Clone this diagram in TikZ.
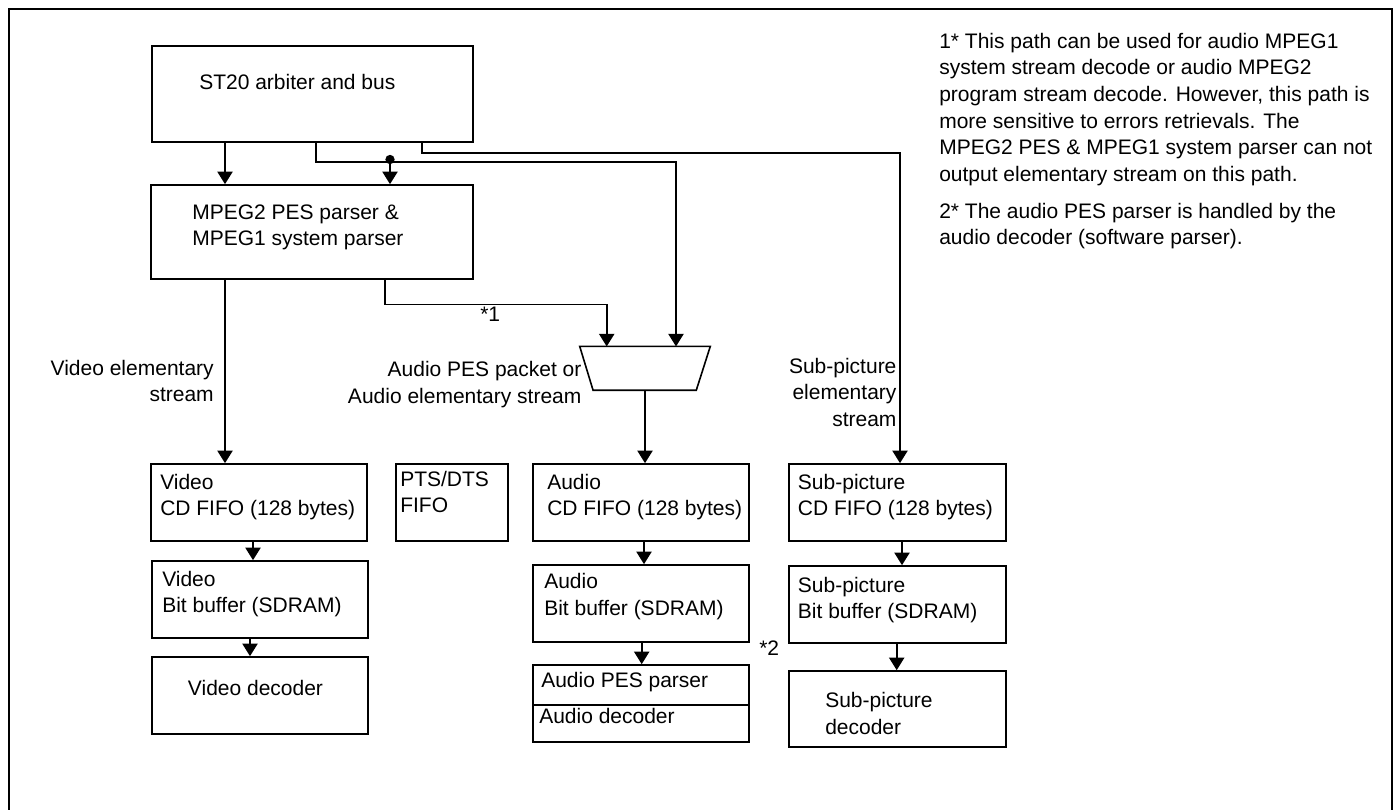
\documentclass[tikz,border=0pt]{standalone}
\usepackage{fontspec}
\setmainfont{Liberation Sans}
\usetikzlibrary{arrows.meta,fit}
\newcommand\leftpar[1]{\parbox[t]{12cm}{\raggedright #1}}
\newcommand\rightpar[1]{\parbox[t]{8cm}{\raggedleft #1}}
\begin{document}
\begin{tikzpicture}[x=0.75pt, y=-0.75pt,
  box/.style={draw, inner sep=0pt, line width=1.25pt},
  lbl/.style={anchor=base west, inner sep=0pt, font=\fontsize{15.75}{20}\selectfont},
  lblr/.style={anchor=base east, inner sep=0pt, font=\fontsize{15.75}{20}\selectfont},
  lblc/.style={anchor=base, inner sep=0pt, font=\fontsize{15.75}{20}\selectfont},
  arr/.style={-{Triangle[width=11.5pt,length=9.5pt]}, line width=1.2pt},
  wire/.style={line width=1.2pt}]
\useasboundingbox (0,0) rectangle (1396,810);
% frame
\draw[line width=1.5pt] (9,815) -- (9,9) -- (1392,9) -- (1392,815);

% boxes
\node[box, fit={(152,46) (473,142)}] (st20) {};
\node[box, fit={(151,185) (473,279)}] (mpeg) {};
\node[box, fit={(151,464) (367,541)}] (vfifo) {};
\node[box, fit={(152,561) (368,638)}] (vbit) {};
\node[box, fit={(152,657) (368,734)}] (vdec) {};
\node[box, fit={(396,464) (508,541)}] (pts) {};
\node[box, fit={(533,464) (749,541)}] (afifo) {};
\node[box, fit={(533,565) (749,642)}] (abit) {};
\node[box, fit={(533,665) (749,705)}] (apes) {};
\node[box, fit={(533,705) (749,742)}] (adec) {};
\node[box, fit={(789,464) (1006,541)}] (sfifo) {};
\node[box, fit={(789,566) (1006,643)}] (sbit) {};
\node[box, fit={(789,671) (1006,747)}] (sdec) {};
% selector (trapezoid)
\node[inner sep=0pt, fit={(580,346.7) (710,390)}] (mux) {};
\draw[wire] (mux.north west) -- (mux.north east) -- ([xshift=-10.5pt]mux.south east)
  -- ([xshift=10pt]mux.south west) -- cycle;
% junction dot
\node[circle, fill, inner sep=0pt, minimum size=7pt] (dot) at (390,159.5) {};

% helper coordinates
\coordinate (cv) at (225,0);
\coordinate (c2) at (316,0);
\coordinate (c3) at (676,161.7);
\coordinate (c4) at (421.7,0);
\coordinate (c5) at (900,152.7);
\coordinate (c6) at (385,0);
\coordinate (c7) at (606.7,304.3);
\coordinate (c8) at (645,0);
\coordinate (c9) at (253,0);
\coordinate (c10) at (250,0);
\coordinate (c11) at (644,0);
\coordinate (c12) at (641.7,0);
\coordinate (c13) at (902,0);
\coordinate (c14) at (896.7,0);

% connectors
\draw[arr] (st20.south -| cv) -- (mpeg.north -| cv);
\draw[arr] (st20.south -| c2) |- (c3) -- (mux.north -| c3);
\draw[arr] (dot.center) -- (mpeg.north -| dot);
\draw[arr] (st20.south -| c4) |- (c5) -- (sfifo.north -| c5);
\draw[arr] (mpeg.south -| cv) -- (vfifo.north -| cv);
\draw[arr] (mpeg.south -| c6) |- (c7) -- (mux.north -| c7);
\draw[arr] (mux.south -| c8) -- (afifo.north -| c8);
\draw[arr] (vfifo.south -| c9) -- (vbit.north -| c9);
\draw[arr] (vbit.south -| c10) -- (vdec.north -| c10);
\draw[arr] (afifo.south -| c11) -- (abit.north -| c11);
\draw[arr] (abit.south -| c12) -- (apes.north -| c12);
\draw[arr] (sfifo.south -| c13) -- (sbit.north -| c13);
\draw[arr] (sbit.south -| c14) -- (sdec.north -| c14);

% texts
\node[lbl] (tst20) at (199,89) {ST20 arbiter and bus};
\node[lbl] (tmpeg) at (192,219) {\leftpar{MPEG2 PES parser \&\\MPEG1 system parser}};
\node[lblr] (tvlab) at (214,375) {\rightpar{Video elementary\\stream}};
\node[lbl] (tvfifo) at (160,489) {\leftpar{Video\\CD FIFO (128 bytes)}};
\node[lbl] (tvbit) at (162,586) {\leftpar{Video\\Bit buffer (SDRAM)}};
\node[lblc] (tvdec) at (255.5,695) {Video decoder};
\node[lbl] (tpts) at (400,486) {\leftpar{PTS/DTS\\FIFO}};
\node[lblr] (talab) at (581.7,376.7) {\rightpar{Audio PES packet or\\Audio elementary stream}};
\node[lbl] (tstar1) at (480,321.7) {*1};
\node[lbl] (tafifo) at (547,489) {\leftpar{Audio\\CD FIFO (128 bytes)}};
\node[lbl] (tabit) at (544,588.5) {\leftpar{Audio\\Bit buffer (SDRAM)}};
\node[lbl] (tapes) at (541,687) {Audio PES parser};
\node[lbl] (tadec) at (539,723.5) {Audio decoder};
\node[lbl] (tstar2) at (759,655) {*2};
\node[lblr] (tslab) at (896.7,373) {\rightpar{Sub-picture\\elementary\\stream}};
\node[lbl] (tsfifo) at (797.7,489) {\leftpar{Sub-picture\\CD FIFO (128 bytes)}};
\node[lbl] (tsbit) at (797.7,592) {\leftpar{Sub-picture\\Bit buffer (SDRAM)}};
\node[lbl] (tsdec) at (825,707.5) {\leftpar{Sub-picture\\decoder}};
\node[lbl] (tnotes) at (939,48.2) {\leftpar{1* This path can be used for audio MPEG1\\
system stream decode or audio MPEG2\\
program stream decode. However, this path is\\
more sensitive to errors retrievals. The\\
MPEG2 PES \& MPEG1 system parser can not\\
output elementary stream on this path.\\[7.5pt]
2* The audio PES parser is handled by the\\
audio decoder (software parser).}};
\end{tikzpicture}
\end{document}
